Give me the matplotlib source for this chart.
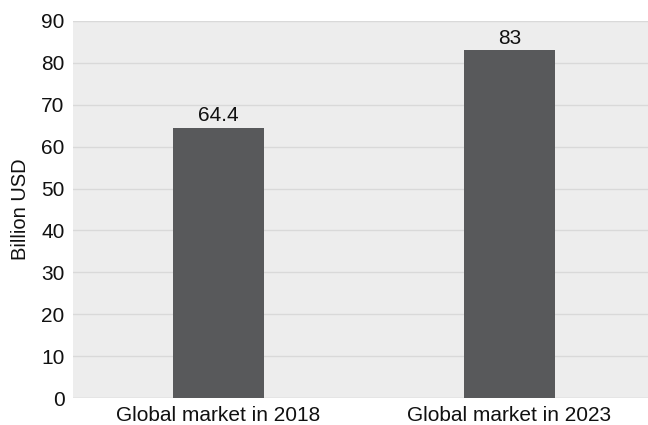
import matplotlib
matplotlib.use("Agg")
import matplotlib.pyplot as plt

categories = ["Global market in 2018", "Global market in 2023"]
values = [64.4, 83]
value_labels = ["64.4", "83"]
y_ticks = [0, 10, 20, 30, 40, 50, 60, 70, 80, 90]

plt.rcParams['font.family'] = ['Liberation Sans', 'DejaVu Sans']

W, H = 648, 425
fig = plt.figure(figsize=(W / 100, H / 100), dpi=100)
ax = fig.add_axes([73 / W, (H - 398) / H, 1 - 73 / W, (398 - 21) / H])
ax.set_facecolor('#ededed')

x = list(range(len(categories)))
bars = ax.bar(x, values, width=0.313, color='#58595b', zorder=3)
for xi, v, lab in zip(x, values, value_labels):
    ax.annotate(lab, (xi, v), xytext=(0, 2), textcoords='offset points',
                ha='center', va='bottom', fontsize=15, color='#111111', zorder=4)

ax.set_xlim(-0.5, 1.476)
ax.set_ylim(0, 90)
ax.set_yticks(y_ticks)
ax.set_yticklabels([str(t) for t in y_ticks], fontsize=15)
ax.set_xticks(x)
ax.set_xticklabels(categories, fontsize=15)
ax.tick_params(axis='y', length=0, pad=6, colors='#111111')
ax.tick_params(axis='x', length=0, pad=6, colors='#111111')
ax.grid(axis='y', color='#d9d9d9', linewidth=1, zorder=1)
for s in ax.spines.values():
    s.set_visible(False)
ax.axhline(90, color='#d9d9d9', linewidth=1.5, zorder=2)
ax.axhline(0, color='#d9d9d9', linewidth=1, zorder=2)
ax.set_ylabel("Billion USD", fontsize=14.5, color='#111111', labelpad=8)

fig.savefig("out.png", dpi=100)
